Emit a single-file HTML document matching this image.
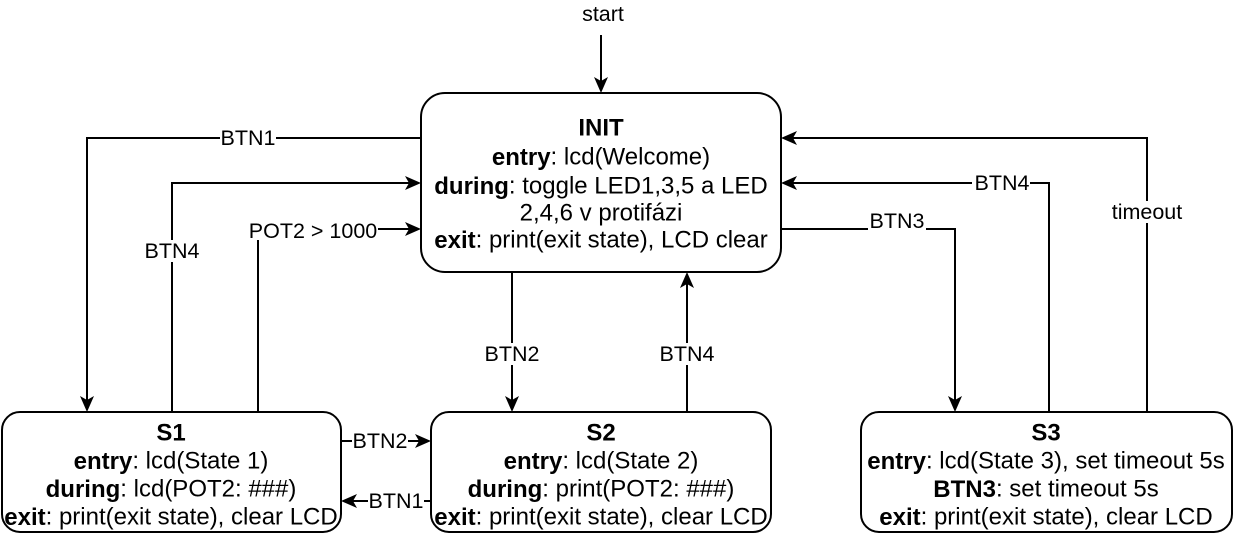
<!DOCTYPE html>
<html><head><meta charset="utf-8"><style>
body{margin:0;background:#fff}
svg{display:block;font-family:"Liberation Sans",Arial,sans-serif}
</style></head><body>
<svg width="1242" height="534" viewBox="0 0 1242 534" xmlns="http://www.w3.org/2000/svg">
<g fill="none" stroke="#000" stroke-width="2">
<rect x="421" y="93" width="360" height="179" rx="24"/>
<rect x="2" y="412" width="339" height="120" rx="18"/>
<rect x="431" y="412" width="340" height="120" rx="18"/>
<rect x="861" y="412" width="371" height="120" rx="18"/>
<path d="M601 35 V86"/>
<path d="M421 138 H87 V405"/>
<path d="M172 412 V183 H414"/>
<path d="M258 412 V229 H414"/>
<path d="M512 272 V405"/>
<path d="M687 412 V279"/>
<path d="M781 229 H955 V405"/>
<path d="M1049 412 V183 H788"/>
<path d="M1147 412 V138 H788"/>
<path d="M341 441 H424"/>
<path d="M431 501 H348"/>
</g>
<g fill="#000">
<path d="M601 93 L594 77 L601 81 L608 77 Z"/>
<path d="M87 412 L80 396 L87 400 L94 396 Z"/>
<path d="M512 412 L505 396 L512 400 L519 396 Z"/>
<path d="M955 412 L948 396 L955 400 L962 396 Z"/>
<path d="M687 272 L680 288 L687 284 L694 288 Z"/>
<path d="M421 183 L405 176 L409 183 L405 190 Z"/>
<path d="M421 229 L405 222 L409 229 L405 236 Z"/>
<path d="M431 441 L415 434 L419 441 L415 448 Z"/>
<path d="M781 183 L797 176 L793 183 L797 190 Z"/>
<path d="M781 138 L797 131 L793 138 L797 145 Z"/>
<path d="M341 501 L357 494 L353 501 L357 508 Z"/>
</g>
<g font-size="21.5" text-anchor="middle" dominant-baseline="central">
<g fill="#fff"><rect x="220" y="127" width="56" height="22"/><rect x="142" y="240" width="60" height="22"/><rect x="248" y="218" width="130" height="22"/><rect x="480" y="343" width="64" height="22"/><rect x="655" y="343" width="64" height="22"/><rect x="868" y="210" width="58" height="22"/><rect x="972" y="172" width="58" height="22"/><rect x="1108" y="201" width="78" height="22"/><rect x="352" y="430" width="56" height="22"/><rect x="368" y="490" width="56" height="22"/></g>
<text x="603" y="14">start</text>
<text x="248" y="138">BTN1</text>
<text x="172" y="251">BTN4</text>
<text x="313" y="231">POT2 &gt; 1000</text>
<text x="512" y="354">BTN2</text>
<text x="687" y="354">BTN4</text>
<text x="897" y="221">BTN3</text>
<text x="1002" y="183">BTN4</text>
<text x="1147" y="212">timeout</text>
<text x="380" y="441">BTN2</text>
<text x="396" y="501">BTN1</text>
</g>
<g font-size="24" text-anchor="middle" dominant-baseline="central">
<text x="601" y="128" font-weight="bold">INIT</text>
<text x="601" y="157"><tspan font-weight="bold">entry</tspan>: lcd(Welcome)</text>
<text x="601" y="186"><tspan font-weight="bold">during</tspan>: toggle LED1,3,5 a LED</text>
<text x="601" y="213">2,4,6 v protifázi</text>
<text x="601" y="240"><tspan font-weight="bold">exit</tspan>: print(exit state), LCD clear</text>
<text x="171" y="433" font-weight="bold">S1</text>
<text x="171" y="461"><tspan font-weight="bold">entry</tspan>: lcd(State 1)</text>
<text x="171" y="489"><tspan font-weight="bold">during</tspan>: lcd(POT2: ###)</text>
<text x="171" y="517"><tspan font-weight="bold">exit</tspan>: print(exit state), clear LCD</text>
<text x="601" y="433" font-weight="bold">S2</text>
<text x="601" y="461"><tspan font-weight="bold">entry</tspan>: lcd(State 2)</text>
<text x="601" y="489"><tspan font-weight="bold">during</tspan>: print(POT2: ###)</text>
<text x="601" y="517"><tspan font-weight="bold">exit</tspan>: print(exit state), clear LCD</text>
<text x="1046" y="433" font-weight="bold">S3</text>
<text x="1046" y="461"><tspan font-weight="bold">entry</tspan>: lcd(State 3), set timeout 5s</text>
<text x="1046" y="489"><tspan font-weight="bold">BTN3</tspan>: set timeout 5s</text>
<text x="1046" y="517"><tspan font-weight="bold">exit</tspan>: print(exit state), clear LCD</text>
</g>
</svg>
</body></html>
